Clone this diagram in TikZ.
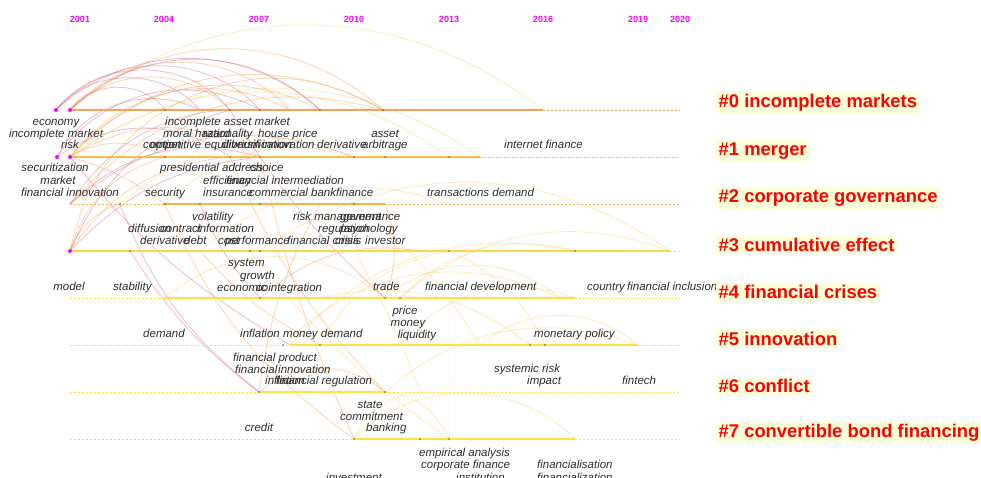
\documentclass[tikz,border=0pt]{standalone}
\usepackage{fontspec}
\setmainfont{Liberation Sans}
\usetikzlibrary{positioning}

\definecolor{yearpink}{RGB}{255,0,255}
\definecolor{clred}{RGB}{255,0,0}
\definecolor{clbg}{RGB}{255,255,218}
\definecolor{kwgray}{RGB}{45,45,45}
\definecolor{line0}{RGB}{246,162,92}
\definecolor{line1}{RGB}{250,188,82}
\definecolor{line2}{RGB}{249,178,72}
\definecolor{line3}{RGB}{255,214,72}
\definecolor{liney}{RGB}{255,226,62}
\definecolor{arcred}{RGB}{205,95,120}
\definecolor{arcor}{RGB}{242,150,70}
\definecolor{arcyl}{RGB}{250,205,100}
\definecolor{dotc}{RGB}{120,90,60}

\tikzset{
  year/.style={font=\bfseries\fontsize{9}{9}\selectfont, text=yearpink, inner sep=0},
  kw/.style={font=\itshape\fontsize{11.5}{12}\selectfont, text=kwgray, inner sep=0, anchor=base west},
  kwc/.style={kw, anchor=base},
  clab/.style={font=\bfseries\fontsize{18.4}{18.4}\selectfont, text=clred, fill=clbg, inner sep=2.5pt, anchor=west},
  solidtl/.style={line width=2.6pt},
  dashtl/.style={line width=1pt, dash pattern=on 2pt off 2pt},
  link/.style={line width=0.8pt, opacity=0.4},
  pinkdot/.style={circle, fill=yearpink, inner sep=0, minimum size=4pt},
}

\begin{document}
\begin{tikzpicture}[x=1pt, y=-1pt]
	\useasboundingbox (0,0) rectangle (981,477);
	
	\node[year] (y2001) at (80,19) {2001};
	\node[year] (y2004) at (164,19) {2004};
	\node[year] (y2007) at (259,19) {2007};
	\node[year] (y2010) at (354,19) {2010};
	\node[year] (y2013) at (449,19) {2013};
	\node[year] (y2016) at (543,19) {2016};
	\node[year] (y2019) at (638,19) {2019};
	\node[year] (y2020) at (680,19) {2020};
	
	\foreach \n/\x in {a/56,b/70,c/165,d/200,e/230,f/260,g/290,h/320,i/383,j/543}
		\coordinate (t0\n) at (\x,110);
	\foreach \n/\x in {a/57,b/70,c/165,d/230,e/260,f/354,g/385,h/420,i/449,j/480}
		\coordinate (t1\n) at (\x,157);
	\foreach \n/\x in {b/70,c/120,d/165,e/200,f/260,g/320,h/354,i/385,j/449}
		\coordinate (t2\n) at (\x,204);
	\foreach \n/\x in {b/70,c/130,d/200,e/250,f/260,g/354,h/420,i/449,j/575,k/670}
		\coordinate (t3\n) at (\x,251);
	\foreach \n/\x in {c/165,d/260,e/320,f/385,g/400,h/449,i/560,j/575}
		\coordinate (t4\n) at (\x,298);
	\foreach \n/\x in {d/283,e/290,f/320,g/400,h/480,i/530,j/545,k/638}
		\coordinate (t5\n) at (\x,345);
	\foreach \n/\x in {d/259,e/320,f/385,g/420}
		\coordinate (t6\n) at (\x,392);
	\foreach \n/\x in {f/354,g/420,h/449,i/575}
		\coordinate (t7\n) at (\x,439);
	
	\foreach \a/\b/\bend/\col in {
		t0b/t0j/38/arcyl, t0b/t0i/42/arcor, t0a/t0f/48/arcred, t0a/t0h/42/arcred,
		t0b/t0c/55/arcred, t0b/t0e/45/arcor, t0a/t0d/50/arcred, t1b/t0g/40/arcor,
		t1a/t0d/45/arcred, t1b/t0i/38/arcor, t1b/t1j/35/arcyl, t2b/t0f/30/arcred,
		t3b/t0c/22/arcor, t3b/t1d/25/arcor, t3b/t2c/25/arcor, t1b/t1c/30/arcor,
		t1b/t1e/32/arcor, t1a/t1d/35/arcred, t2b/t1f/30/arcred, t3b/t1e/20/arcred,
		t0c/t0i/30/arcor, t2d/t1f/30/arcyl, t3d/t2j/30/arcyl, t4d/t3h/25/arcor,
		t6d/t2g/10/arcor, t5e/t3j/30/arcyl, t7f/t7i/45/arcyl, t7f/t6g/30/arcyl,
		t6f/t5k/30/arcyl, t5d/t4i/35/arcyl, t4c/t4f/40/arcyl, t4g/t3k/30/arcyl,
		t6d/t6f/40/arcor, t5g/t4j/35/arcyl, t2c/t6d/-15/arcred, t1b/t5e/-10/arcred,
		t2d/t7f/-15/arcor, t1d/t6f/-10/arcor, t3c/t6d/-10/arcred, t0e/t4f/-8/arcred,
		t1e/t7f/-5/arcor, t3e/t7h/-8/arcyl, t2h/t5h/10/arcyl, t3g/t6g/5/arcyl,
		t4h/t7h/0/arcyl, t4e/t5i/25/arcyl, t3i/t5j/20/arcyl, t2i/t4f/20/arcor,
		t0a/t0e/52/arcred, t0b/t0g/48/arcor, t0b/t0h/44/arcred, t1a/t0f/42/arcred,
		t1b/t0h/38/arcor, t1b/t1i/36/arcyl, t2b/t0i/32/arcor, t2b/t1e/30/arcred,
		t3b/t0e/25/arcred, t3b/t1c/28/arcor, t1b/t2d/10/arcor, t2c/t1g/30/arcyl,
		t3f/t3k/35/arcyl, t4g/t3j/30/arcyl, t5f/t3i/25/arcyl, t4f/t4i/40/arcyl,
		t3d/t5f/-10/arcor, t2e/t4d/-10/arcred, t6f/t7h/30/arcyl, t5h/t5k/40/arcyl}
		\draw[link,\col] (\a) to[bend left=\bend] (\b);
	
	\foreach \y/\a/\b/\col in {110/70/543/line0, 157/70/480/line1, 204/163/385/line2,
		251/70/670/line3, 298/164/575/liney, 345/290/638/liney, 392/259/385/liney, 439/354/575/liney}{
		\draw[dashtl,\col] (70,\y) -- (\a,\y);
		\draw[solidtl,\col] (\a,\y) -- (\b,\y);
		\draw[dashtl,\col] (\b,\y) -- (680,\y);
	}
	
	\foreach \p in {t0c,t0e,t0f,t0h,t0i,t1c,t1d,t1e,t1f,t1g,t1i,t2c,t2d,t2e,t2f,t2h,t3c,t3e,t3f,t3i,t3j,
		t4d,t4f,t4g,t5d,t5f,t5i,t5j,t6d,t6f,t7f,t7g,t7h}
		\fill[dotc] (\p) circle (0.8pt);
	\foreach \p in {t0a,t0b,t1a,t1b,t3b}
		\node[pinkdot] at (\p) {};
	
	\node[kwc] (economy) at (56,125) {economy};
	\node[kwc] (incmarket) at (56,137) {incomplete market};
	\node[kwc] (risk) at (70,148) {risk};
	\node[kw] (incasset) at (165,125) {incomplete asset market};
	\node[kw] (moralhazard) at (163,137) {moral hazard};
	\node[kw] (rationality) at (203,137) {rationality};
	\node[kw] (houseprice) at (258,137) {house price};
	\node[kw] (competitive) at (143,148) {competitive equilibrium};
	\node[kw] (option) at (150,148) {option};
	\node[kw] (diversification) at (222,148) {diversification};
	\node[kw] (innovationa) at (262,148) {innovation};
	\node[kw] (derivativea) at (317,148) {derivative};
	\node[kw] (arbitrage) at (362,148) {arbitrage};
	\node[kwc] (asset) at (385,137) {asset};
	\node[kw] (internetfin) at (504,148) {internet finance};
	
	\node[kwc] (securitization) at (55,171) {securitization};
	\node[kwc] (marketb) at (58,184) {market};
	\node[kwc] (fininnovation) at (70,196) {financial innovation};
	\node[kw] (presaddress) at (160,171) {presidential address};
	\node[kw] (choice) at (250,171) {choice};
	\node[kw] (efficiency) at (203,184) {efficiency};
	\node[kw] (finintermed) at (226,184) {financial intermediation};
	\node[kw] (security) at (145,196) {security};
	\node[kw] (insurance) at (203,196) {insurance};
	\node[kw] (commbank) at (249,196) {commercial bank};
	\node[kw] (finance) at (336,196) {finance};
	\node[kw] (transdemand) at (427,196) {transactions demand};
	
	\node[kw] (volatility) at (192,220) {volatility};
	\node[kw] (diffusion) at (128,232) {diffusion};
	\node[kw] (contract) at (160,232) {contract};
	\node[kw] (information) at (197,232) {information};
	\node[kw] (derivativeb) at (140,244) {derivative};
	\node[kw] (debt) at (184,244) {debt};
	\node[kw] (cost) at (218,244) {cost};
	\node[kw] (performance) at (225,244) {performance};
	\node[kw] (fincrisis) at (287,244) {financial crisis};
	\node[kw] (crisis) at (335,244) {crisis};
	\node[kw] (investor) at (365,244) {investor};
	\node[kw] (riskman) at (293,220) {risk management};
	\node[kw] (governance) at (340,220) {governance};
	\node[kw] (regulation) at (318,232) {regulation};
	\node[kw] (psychology) at (340,232) {psychology};
	
	\node[kw] (system) at (228,266) {system};
	\node[kw] (growth) at (240,279) {growth};
	\node[kw] (economic) at (217,291) {economic};
	\node[kw] (cointegration) at (256,291) {cointegration};
	\node[kwc] (model) at (69,290) {model};
	\node[kw] (stability) at (113,290) {stability};
	\node[kw] (trade) at (373,290) {trade};
	\node[kw] (findev) at (425,290) {financial development};
	\node[kw] (country) at (587,290) {country};
	\node[kw] (fininclusion) at (627,290) {financial inclusion};
	
	\node[kwc] (price) at (405,314) {price};
	\node[kwc] (money) at (408,326) {money};
	\node[kwc] (liquidity) at (417,338) {liquidity};
	\node[kwc] (demand) at (164,337) {demand};
	\node[kw] (inflationa) at (240,337) {inflation};
	\node[kw] (moneydemand) at (283,337) {money demand};
	\node[kw] (monpolicy) at (534,337) {monetary policy};
	
	\node[kw] (finproduct) at (233,361) {financial product};
	\node[kw] (financial) at (235,373) {financial};
	\node[kw] (innovationb) at (278,373) {innovation};
	\node[kw] (inflationb) at (265,384) {inflation};
	\node[kw] (finregulation) at (276,384) {financial regulation};
	\node[kw] (systemicrisk) at (494,372) {systemic risk};
	\node[kw] (impact) at (527,384) {impact};
	\node[kw] (fintech) at (622,384) {fintech};
	
	\node[kwc] (state) at (370,408) {state};
	\node[kw] (commitment) at (340,420) {commitment};
	\node[kw] (banking) at (366,431) {banking};
	\node[kwc] (credit) at (259,431) {credit};
	
	\node[kw] (empirical) at (419,456) {empirical analysis};
	\node[kw] (corpfinance) at (421,468) {corporate finance};
	\node[kw] (institution) at (456,481) {institution};
	\node[kw] (investment) at (326,481) {investment};
	\node[kw] (financialisation) at (537,468) {financialisation};
	\node[kw] (financialization) at (537,481) {financialization};
	
	\node[clab] (c0) at (716,103) {\#0 incomplete markets};
	\node[clab] (c1) at (716,151) {\#1 merger};
	\node[clab] (c2) at (716,198) {\#2 corporate governance};
	\node[clab] (c3) at (716,245) {\#3 cumulative effect};
	\node[clab] (c4) at (716,292) {\#4 financial crises};
	\node[clab] (c5) at (716,339) {\#5 innovation};
	\node[clab] (c6) at (716,386) {\#6 conflict};
	\node[clab] (c7) at (716,433) {\#7 convertible bond financing};
\end{tikzpicture}
\end{document}
